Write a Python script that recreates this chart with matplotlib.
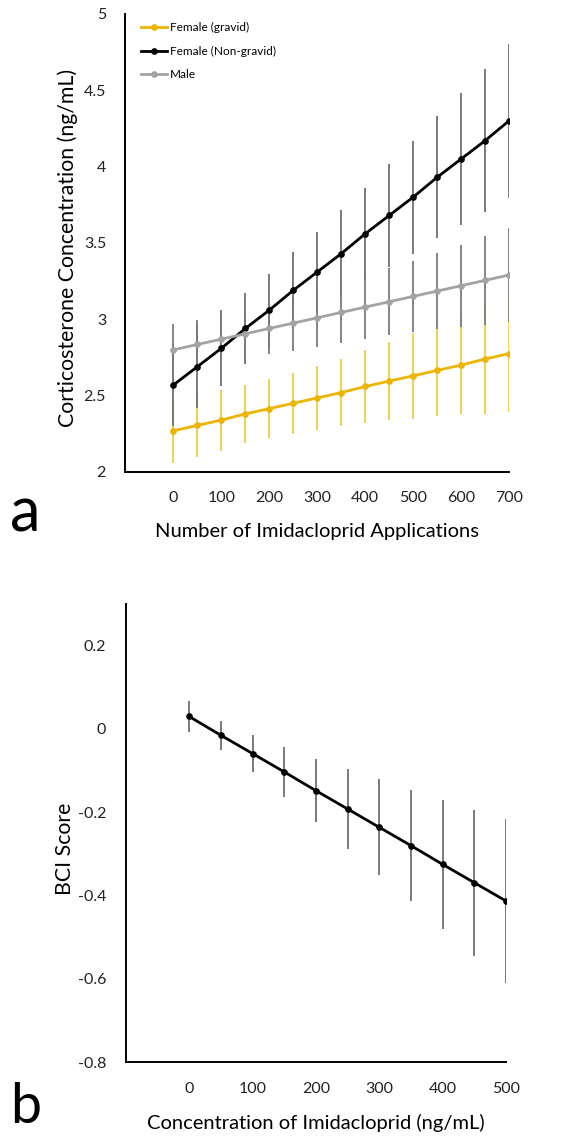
import numpy as np
import matplotlib.pyplot as plt

plt.rcParams['font.family'] = ['Lato', 'DejaVu Sans']

# panel a data
applications = [0, 50, 100, 150, 200, 250, 300, 350, 400, 450, 500, 550, 600, 650, 700]
gravid = [2.27, 2.305, 2.34, 2.38, 2.415, 2.45, 2.485, 2.52, 2.56, 2.595, 2.63, 2.665, 2.70, 2.74, 2.775]
gravid_err = [0.21, 0.21, 0.20, 0.19, 0.195, 0.20, 0.21, 0.22, 0.24, 0.255, 0.28, 0.30, 0.32, 0.36, 0.38]
nongravid = [2.57, 2.69, 2.81, 2.94, 3.06, 3.19, 3.31, 3.43, 3.56, 3.68, 3.80, 3.93, 4.05, 4.17, 4.30]
nongravid_err = [0.27, 0.27, 0.25, 0.23, 0.24, 0.25, 0.26, 0.285, 0.30, 0.34, 0.37, 0.40, 0.43, 0.47, 0.505]
male = [2.80, 2.835, 2.87, 2.905, 2.94, 2.975, 3.01, 3.045, 3.08, 3.115, 3.15, 3.185, 3.22, 3.255, 3.29]
male_err = [0.17, 0.16, 0.16, 0.17, 0.17, 0.18, 0.19, 0.20, 0.21, 0.22, 0.23, 0.25, 0.27, 0.29, 0.31]

# panel b data
concentration = [0, 50, 100, 150, 200, 250, 300, 350, 400, 450, 500]
bci = [0.03, -0.015, -0.059, -0.103, -0.148, -0.192, -0.236, -0.280, -0.325, -0.369, -0.413]
bci_err = [0.037, 0.035, 0.045, 0.06, 0.076, 0.096, 0.115, 0.134, 0.155, 0.175, 0.196]

fig = plt.figure(figsize=(5.61, 11.37), dpi=100)
ax1 = fig.add_axes([0.2237, 0.5849, 0.6836, 0.4028])
ax2 = fig.add_axes([0.2241, 0.0657, 0.678, 0.4031])

series = [
    ('Female (gravid)', gravid, gravid_err, '#EDB400', '#F2CC40'),
    ('Female (Non-gravid)', nongravid, nongravid_err, 'black', '#6e6e6e'),
    ('Male', male, male_err, '#a3a3a3', '#7a7a7a'),
]
for i, (lab, y, e, c, ec) in enumerate(series):
    ax1.errorbar(applications, y, yerr=e, fmt='none', ecolor=ec, elinewidth=1.3,
                 capsize=0, zorder=2 + i)
    ax1.plot(applications, y, '-o', color=c, lw=2, ms=3.8, label=lab, zorder=5 + i)

ax1.set_xlim(-100, 700)
ax1.set_ylim(2, 5)
ax1.set_xticks(range(0, 701, 100))
ax1.set_yticks([2, 2.5, 3, 3.5, 4, 4.5, 5])
ax1.set_yticklabels(['2', '2.5', '3', '3.5', '4', '4.5', '5'])
ax1.set_ylabel('Corticosterone Concentration (ng/mL)', fontsize=15.3)
ax1.yaxis.set_label_coords(-0.124, 0.49)
ax1.set_xlabel('Number of Imidacloprid Applications', fontsize=14.5, labelpad=13)
ax1.legend(loc='upper left', frameon=False, fontsize=8.5, handlelength=2.2,
           handletextpad=0.25, labelspacing=1.05, borderaxespad=0.3,
           bbox_to_anchor=(0.02, 1.0))

ax2.errorbar(concentration, bci, yerr=bci_err, fmt='none', ecolor='#6e6e6e',
             elinewidth=1.3, capsize=0, zorder=2)
ax2.plot(concentration, bci, '-o', color='black', lw=2, ms=3.8, zorder=3)
ax2.set_xlim(-100, 500)
ax2.set_ylim(-0.8, 0.3)
ax2.set_xticks(range(0, 501, 100))
ax2.set_yticks([-0.8, -0.6, -0.4, -0.2, 0, 0.2])
ax2.set_yticklabels(['-0.8', '-0.6', '-0.4', '-0.2', '0', '0.2'])
ax2.set_ylabel('BCI Score', fontsize=15.3)
ax2.yaxis.set_label_coords(-0.133, 0.465)
ax2.set_xlabel('Concentration of Imidacloprid (ng/mL)', fontsize=14.5, labelpad=13)

for ax in (ax1, ax2):
    for s in ('top', 'right'):
        ax.spines[s].set_visible(False)
    for s in ('left', 'bottom'):
        ax.spines[s].set_linewidth(1.4)
    ax.tick_params(length=0, labelsize=11.5, colors='#222222')
    ax.tick_params(axis='x', pad=14)
    ax.tick_params(axis='y', pad=14)

fig.text(0.018, 0.548, 'a', fontsize=44, va='center', ha='left')
fig.text(0.018, 0.026, 'b', fontsize=40, va='center', ha='left')

fig.savefig('out.png', dpi=100)
